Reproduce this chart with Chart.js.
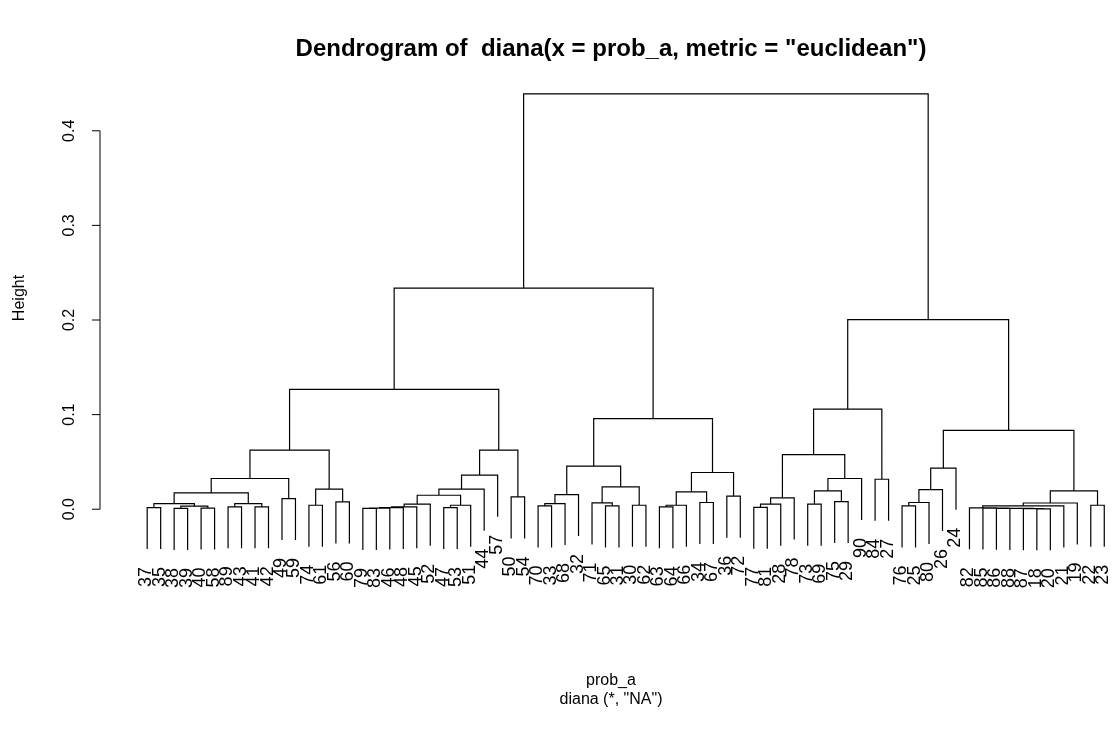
<!DOCTYPE html>
<html>
<head>
<meta charset="utf-8">
<script src="https://cdn.jsdelivr.net/npm/chart.js@4.4.1/dist/chart.umd.min.js"></script>
<style>
  html, body { margin: 0; padding: 0; background: #fff; }
  canvas { display: block; }
</style>
</head>
<body>
<canvas id="dend" width="1118" height="738"></canvas>
<script>
// Merge table, R style: negative = observation label, positive = earlier merge step
const mergeLeft = [
  -37, -38, -40, 2, 1, -89, -41, 6, 5, -49,
  9, -74, -56, 12, 11, -79, 16, 17, 18, 19,
  -47, 21, 20, 23, 24, -50, 25, 15, -70, 29,
  30, -65, -71, -30, 33, 31, -63, 37, -34, 38,
  -36, 40, 36, 28, -77, 45, 46, -73, -75, 48,
  50, 47, -84, 52, -76, 55, 56, 57, -18, -87,
  -88, -86, -85, -82, 64, 65, -22, 66, 58, 54,
  44
];
const mergeRight = [
  -35, -39, -58, 3, 4, -43, -42, 7, 8, -59,
  10, -61, -60, 13, 14, -83, -46, -48, -45, -52,
  -53, -51, 22, -44, -57, -54, 26, 27, -33, -68,
  -32, -31, 32, -62, 34, 35, -64, -66, -67, 39,
  -72, 41, 42, 43, -81, -28, -78, -69, -29, 49,
  -90, 51, -27, 53, -25, -80, -26, -24, -20, 59,
  60, 61, 62, 63, -21, -19, -23, 67, 68, 69,
  70
];
const mergeHeight = [
  0.0018, 0.0008, 0.0012, 0.0032, 0.0060, 0.0025, 0.0025, 0.0060, 0.0172, 0.0113,
  0.0325, 0.0042, 0.0077, 0.0212, 0.0624, 0.0008, 0.0012, 0.0018, 0.0025, 0.0053,
  0.0018, 0.0042, 0.0148, 0.0212, 0.0360, 0.0130, 0.0624, 0.1267, 0.0035, 0.0060,
  0.0155, 0.0035, 0.0067, 0.0042, 0.0236, 0.0455, 0.0025, 0.0042, 0.0071, 0.0183,
  0.0138, 0.0388, 0.0958, 0.2337, 0.0020, 0.0053, 0.0120, 0.0053, 0.0081, 0.0194,
  0.0325, 0.0578, 0.0317, 0.1058, 0.0035, 0.0071, 0.0208, 0.0434, 0.0004, 0.0006,
  0.0008, 0.0010, 0.0012, 0.0015, 0.0035, 0.0066, 0.0042, 0.0194, 0.0833, 0.2005,
  0.4390
];
const yTicks = [0, 0.1, 0.2, 0.3, 0.4];

const FONT = '"Liberation Sans", Arial, Helvetica, sans-serif';
const hang = 0.1 * (Math.max(...mergeHeight) - Math.min(...mergeHeight));

// leaf order: in-order walk from the root
const leafPos = {};
let nextPos = 1;
function walk(ref) {
  if (ref < 0) { leafPos[-ref] = nextPos++; return; }
  walk(mergeLeft[ref - 1]);
  walk(mergeRight[ref - 1]);
}
walk(mergeLeft.length);

// build the bracket polylines, null breaks between them
const nodeX = [];
const segs = [];
const leafTips = [];
function xOf(ref) { return ref < 0 ? leafPos[-ref] : nodeX[ref - 1]; }
for (let k = 0; k < mergeLeft.length; k++) {
  const h = mergeHeight[k];
  const a = mergeLeft[k], b = mergeRight[k];
  const xa = xOf(a), xb = xOf(b);
  const ya = a < 0 ? h - hang : mergeHeight[a - 1];
  const yb = b < 0 ? h - hang : mergeHeight[b - 1];
  nodeX.push((xa + xb) / 2);
  segs.push({x: xa, y: ya}, {x: xa, y: h}, {x: xb, y: h}, {x: xb, y: yb}, {x: xb, y: null});
  if (a < 0) leafTips.push({label: String(-a), x: xa, y: ya});
  if (b < 0) leafTips.push({label: String(-b), x: xb, y: yb});
}

// axis, labels and titles drawn R-style
const dendroText = {
  id: 'dendroText',
  afterDraw(chart) {
    const ctx = chart.ctx;
    const xs = chart.scales.x, ys = chart.scales.y;
    const x0 = chart.chartArea.left;
    ctx.save();
    ctx.strokeStyle = '#000';
    ctx.fillStyle = '#000';
    ctx.lineWidth = 1;

    // y axis
    ctx.beginPath();
    ctx.moveTo(x0, ys.getPixelForValue(yTicks[0]));
    ctx.lineTo(x0, ys.getPixelForValue(yTicks[yTicks.length - 1]));
    yTicks.forEach(t => {
      const py = ys.getPixelForValue(t);
      ctx.moveTo(x0 - 8, py);
      ctx.lineTo(x0, py);
    });
    ctx.stroke();

    ctx.font = '16px ' + FONT;
    ctx.textAlign = 'center';
    ctx.textBaseline = 'middle';
    yTicks.forEach(t => {
      ctx.save();
      ctx.translate(70, ys.getPixelForValue(t));
      ctx.rotate(-Math.PI / 2);
      ctx.fillText(t.toFixed(1), 0, 0);
      ctx.restore();
    });

    ctx.save();
    ctx.translate(20, 298);
    ctx.rotate(-Math.PI / 2);
    ctx.fillText('Height', 0, 0);
    ctx.restore();

    ctx.fillText('prob_a', 611, 681);
    ctx.fillText('diana (*, "NA")', 611, 700);

    // leaf labels, hanging under each leaf
    ctx.font = '18px ' + FONT;
    ctx.textAlign = 'right';
    ctx.textBaseline = 'alphabetic';
    leafTips.forEach(tip => {
      ctx.save();
      ctx.translate(xs.getPixelForValue(tip.x) + 4, ys.getPixelForValue(tip.y) + 18);
      ctx.rotate(-Math.PI / 2);
      ctx.fillText(tip.label, 0, 0);
      ctx.restore();
    });

    // main title
    ctx.textAlign = 'center';
    ctx.textBaseline = 'middle';
    ctx.font = 'bold 24px ' + FONT;
    ctx.fillText('Dendrogram of  diana(x = prob_a, metric = "euclidean")', 611, 49);
    ctx.restore();
  }
};

new Chart(document.getElementById('dend'), {
  type: 'scatter',
  data: {
    datasets: [{
      data: segs,
      showLine: true,
      spanGaps: false,
      borderColor: '#000',
      borderWidth: 1.2,
      pointRadius: 0,
      pointHoverRadius: 0,
      tension: 0
    }]
  },
  options: {
    responsive: false,
    animation: false,
    devicePixelRatio: 1,
    events: [],
    layout: { padding: { left: 100, right: 7, top: 74, bottom: 172 } },
    plugins: { legend: { display: false }, tooltip: { enabled: false } },
    scales: {
      x: { type: 'linear', display: false, min: -2.5, max: 72.5 },
      y: { type: 'linear', display: false, min: -0.06, max: 0.46 }
    }
  },
  plugins: [dendroText]
});
</script>
</body>
</html>
